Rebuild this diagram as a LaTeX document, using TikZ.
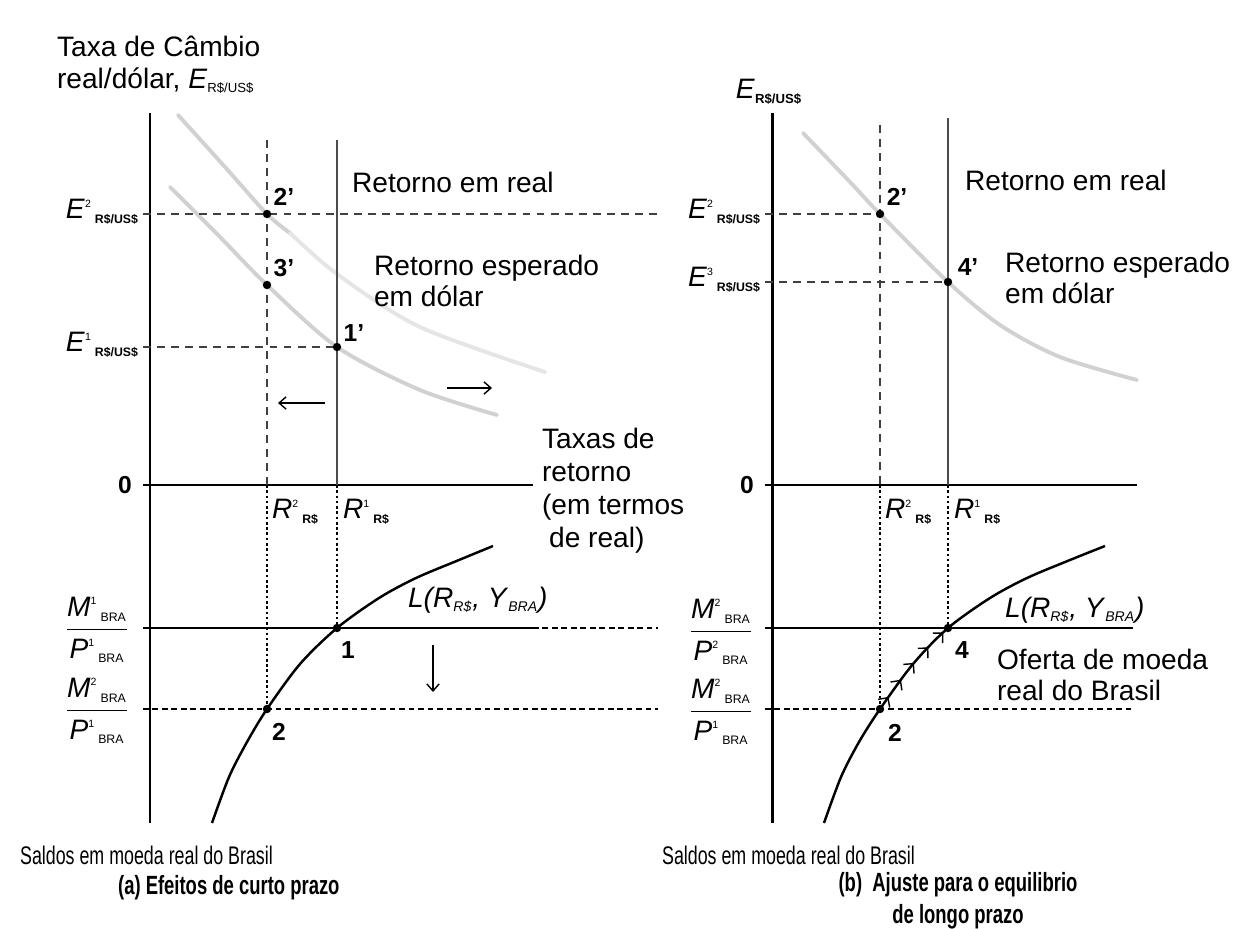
\documentclass[tikz,border=0pt]{standalone}
\usepackage{amsmath}
\usepackage{fontspec}
\setmainfont{Liberation Sans}
\newfontfamily\narrowfont[FakeStretch=0.7]{Liberation Sans}
\usetikzlibrary{arrows.meta, decorations.markings}

% superscript, then subscript after it
\newcommand{\supsub}[2]{\ensuremath{^{\text{\fontsize{6}{6}\selectfont #1}}{}_{\,\text{\fontsize{7}{7}\selectfont\bfseries #2}}}}
\newcommand{\supsubn}[2]{\ensuremath{^{\text{\fontsize{6}{6}\selectfont #1}}{}_{\,\text{\fontsize{7}{7}\selectfont #2}}}}
\newcommand{\isub}[1]{\ensuremath{_{\text{\itshape\fontsize{8}{8}\selectfont #1}}}}
\newcommand{\usub}[1]{\ensuremath{_{\text{\fontsize{7.5}{8}\selectfont #1}}}}

\tikzset{
  mainaxis/.style={line width=1.7pt},
  zeroline/.style={line width=1.1pt},
  moneyline/.style={line width=1.5pt},
  retline/.style={line width=0.7pt, black!70},
  guide/.style={line width=0.7pt, dash pattern=on 4.5pt off 3.5pt, black!75},
  dotguide/.style={line width=0.8pt, dash pattern=on 1.5pt off 1.5pt},
  lowguide/.style={line width=0.8pt, dash pattern=on 3.2pt off 2.2pt},
  expret/.style={line width=2.2pt, black!18, line cap=round},
  demand/.style={line width=1.4pt},
  eqdot/.style={circle, fill, inner sep=0pt, minimum size=4.8pt},
  lbl/.style={font=\fontsize{16}{18}\selectfont, inner sep=1pt},
  numlbl/.style={font=\fontsize{14}{16}\selectfont\bfseries, inner sep=1pt},
  movearrow/.style={-{Straight Barb[length=4pt,width=7pt]}, line width=0.8pt},
  footlbl/.style={font=\narrowfont\fontsize{14.5}{17}\selectfont, inner sep=1pt},
  caplbl/.style={font=\narrowfont\bfseries\fontsize{15}{18}\selectfont, inner sep=1pt},
}

\begin{document}
\begin{tikzpicture}[x=0.02cm, y=-0.02cm]
  \fill[white] (0,0) rectangle (1240,929);
  \useasboundingbox (0,0) rectangle (1240,929);

  % ---------- (a) short run ----------
  % expected dollar returns
  \draw[expret] plot[smooth] coordinates {(170,187) (220,237) (267,285) (337,347) (420,390) (497,415)};
  \draw[expret] plot[smooth] coordinates {(178,115) (225,167) (267,214) (290,233)};
  \draw[expret, black!10] plot[smooth] coordinates {(290,233) (337,274) (420,327) (545,372)};

  % axes
  \draw[mainaxis] (150,113) -- (150,823);
  \draw[zeroline] (143,485) -- (533,485);

  % points
  \coordinate (a2p) at (267,214);
  \coordinate (a3p) at (267,285);
  \coordinate (a1p) at (337,347);
  \coordinate (a1) at (337,628);
  \coordinate (a2) at (267,709);

  % guides
  \draw[guide] (143,214) -- (658,214);
  \draw[guide] (143,347) -- (a1p);
  \draw[guide] (267,140) -- (267,485);
  \draw[dotguide] (267,485) -- (a2);
  \draw[retline] (337,140) -- (337,485);
  \draw[dotguide] (337,485) -- (a1);
  \draw[moneyline] (143,628) -- (533,628);
  \draw[lowguide] (533,628) -- (658,628);
  \draw[lowguide] (143,709) -- (658,709);

  % money demand
  \draw[demand] plot[smooth] coordinates {(212,823) (229,777) (247,742) (267,709) (300,664) (337,628) (379,598) (416,578) (459,560) (493,546)};

  \foreach \p in {a2p,a3p,a1p,a1,a2} \node[eqdot] at (\p) {};

  % shifts
  \draw[movearrow] (325,403) -- (278,403);
  \draw[movearrow] (447,388) -- (492,388);
  \draw[movearrow] (433,645) -- (433,692);

  % labels
  \node[lbl, anchor=north west, align=left] (ylabA) at (55,34) {Taxa de Câmbio\\real/dólar, \textit{E}\usub{R\$/US\$}};
  \node[lbl, anchor=east] (e2A) at (141,212) {\textit{E}\supsub{2}{R\$/US\$}};
  \node[lbl, anchor=east] (e1A) at (141,345) {\textit{E}\supsub{1}{R\$/US\$}};
  \node[numlbl, anchor=east] (zeroA) at (134,485) {0};
  \node[numlbl] (l2pA) at (284,197) {2'};
  \node[numlbl] (l3pA) at (284,268) {3'};
  \node[numlbl] (l1pA) at (354,333) {1'};
  \node[numlbl] (l1A) at (348,650) {1};
  \node[numlbl] (l2A) at (279,732) {2};
  \node[lbl, anchor=west] (retA) at (350,182) {Retorno em real};
  \node[lbl, anchor=west, align=left] (expA) at (372,281) {Retorno esperado\\em dólar};
  \node[lbl, anchor=north west, align=left, font=\fontsize{16}{18.7}\selectfont] (taxA) at (540,426) {Taxas de\\retorno\\(em termos\\\hspace{0.25em}de real)};
  \node[lbl, anchor=west] (r2A) at (270,512) {\textit{R}\supsub{2}{R\$}};
  \node[lbl, anchor=west] (r1A) at (341,512) {\textit{R}\supsub{1}{R\$}};
  \node[lbl, anchor=west] (LA) at (406,600) {\textit{L(R}\isub{R\$}\textit{, Y}\isub{BRA}\textit{)}};
  \node[lbl] (m1A) at (97,630) {$\dfrac{\textit{M}\supsubn{1}{BRA}}{\textit{P}\supsubn{1}{BRA}}$};
  \node[lbl] (m2A) at (97,711) {$\dfrac{\textit{M}\supsubn{2}{BRA}}{\textit{P}\supsubn{1}{BRA}}$};
  \node[footlbl, anchor=west] (saldA) at (18,855) {Saldos em moeda real do Brasil};
  \node[caplbl, anchor=west] (capA) at (116,888) {(a) Efeitos de curto prazo};

  % ---------- (b) long run ----------
  \draw[expret] plot[smooth] coordinates {(803,133) (850,182) (880,214) (948,282) (1000,325) (1060,357) (1137,380)};

  \draw[mainaxis] (772,113) -- (772,823);
  \draw[zeroline] (765,485) -- (1137,485);

  \coordinate (b2p) at (880,214);
  \coordinate (b4p) at (948,282);
  \coordinate (b4) at (948,628);
  \coordinate (b2) at (880,709);

  \draw[guide] (765,214) -- (b2p);
  \draw[guide] (765,282) -- (b4p);
  \draw[guide] (880,125) -- (880,485);
  \draw[dotguide] (880,485) -- (b2);
  \draw[retline] (948,118) -- (948,485);
  \draw[dotguide] (948,485) -- (b4);
  \draw[moneyline] (765,628) -- (1133,628);
  \draw[lowguide] (765,709) -- (1133,709);

  \draw[demand] plot[smooth] coordinates {(824,823) (841,777) (859,742) (880,709) (913,664) (948,628) (990,598) (1027,578) (1070,560) (1105,546)};
  % adjustment path 2 -> 4
  \path[postaction={decorate}, decoration={markings, mark=between positions 0.14 and 0.95 step 0.2 with {\arrow[line width=0.8pt]{Straight Barb[length=4pt,width=8pt]}}}]
    plot[smooth] coordinates {(880,709) (913,664) (948,628)};

  \foreach \p in {b2p,b4p,b4,b2} \node[eqdot] at (\p) {};

  \node[lbl] (ylabB) at (769,92) {\textit{E}\usub{\bfseries R\$/US\$}};
  \node[lbl, anchor=east] (e2B) at (763,212) {\textit{E}\supsub{2}{R\$/US\$}};
  \node[lbl, anchor=east] (e3B) at (763,280) {\textit{E}\supsub{3}{R\$/US\$}};
  \node[numlbl, anchor=east] (zeroB) at (756,485) {0};
  \node[numlbl] (l2pB) at (897,197) {2'};
  \node[numlbl] (l4pB) at (968,267) {4'};
  \node[numlbl] (l4B) at (962,650) {4};
  \node[numlbl] (l2B) at (895,733) {2};
  \node[lbl, anchor=west] (retB) at (963,180) {Retorno em real};
  \node[lbl, anchor=west, align=left] (expB) at (1003,278) {Retorno esperado\\em dólar};
  \node[lbl, anchor=west] (r2B) at (883,512) {\textit{R}\supsub{2}{R\$}};
  \node[lbl, anchor=west] (r1B) at (952,512) {\textit{R}\supsub{1}{R\$}};
  \node[lbl, anchor=west] (LB) at (1003,610) {\textit{L(R}\isub{R\$}\textit{, Y}\isub{BRA}\textit{)}};
  \node[lbl, anchor=west, align=left] (ofB) at (995,675) {Oferta de moeda\\real do Brasil};
  \node[lbl] (m2B) at (721,632) {$\dfrac{\textit{M}\supsubn{2}{BRA}}{\textit{P}\supsubn{2}{BRA}}$};
  \node[lbl] (m3B) at (721,712) {$\dfrac{\textit{M}\supsubn{2}{BRA}}{\textit{P}\supsubn{1}{BRA}}$};
  \node[footlbl, anchor=west] (saldB) at (660,855) {Saldos em moeda real do Brasil};
  \node[caplbl, align=center] (capB) at (958,901) {(b)\ \ Ajuste para o equilibrio\\de longo prazo};
\end{tikzpicture}
\end{document}
